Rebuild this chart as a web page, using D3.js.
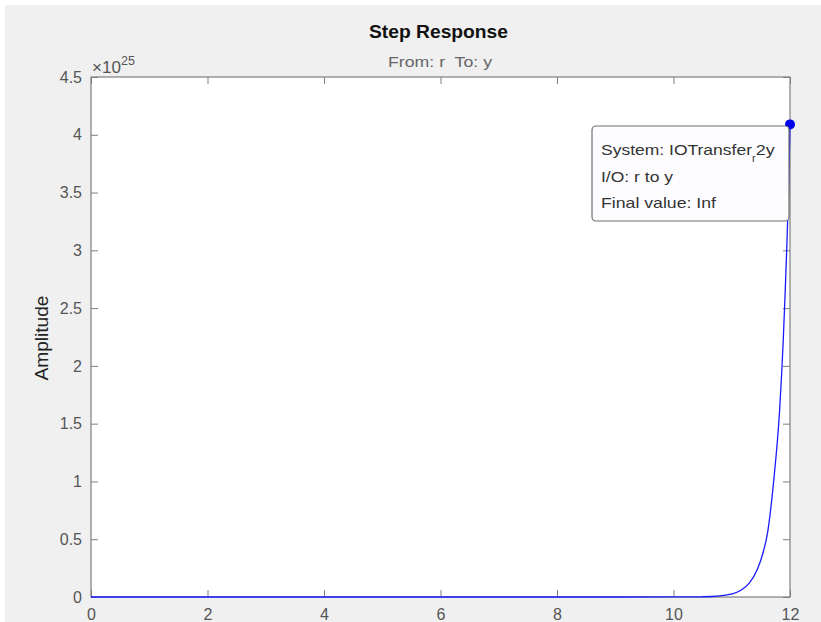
<!DOCTYPE html>
<html><head><meta charset="utf-8">
<script src="https://cdn.jsdelivr.net/npm/d3@7"></script>
<style>
html,body{margin:0;padding:0;background:#fff;}
svg{display:block;}
text{font-family:"Liberation Sans",Arial,sans-serif;}
</style></head>
<body>
<script>
// Data (time in seconds, amplitude in units of 1e25)
const times =      [0, 2, 4, 6, 8, 10, 10.5, 10.8, 10.985, 11.157, 11.30, 11.444, 11.53, 11.616, 11.719, 11.822, 11.884, 11.918, 11.943, 11.977, 12];
const amplitude =  [0, 0, 0, 0, 0, 0.0003, 0.002, 0.01, 0.024, 0.058, 0.12, 0.245, 0.37, 0.56, 1.0, 1.62, 2.22, 2.65, 3.0, 3.55, 4.09];
const xTicks = [0, 2, 4, 6, 8, 10, 12];
const yTicks = [0, 0.5, 1, 1.5, 2, 2.5, 3, 3.5, 4, 4.5];
const finalPoint = {t: 12, v: 4.09};
const tipLines = ["I/O: r to y", "Final value: Inf"];

const W = 821, H = 622;
const svg = d3.select("body").append("svg").attr("width", W).attr("height", H);
svg.append("rect").attr("x", 5).attr("y", 5).attr("width", W - 5).attr("height", H - 5).attr("fill", "#f0f0f0");

const L = 91, R = 790, T = 77, B = 597;
const x = d3.scaleLinear().domain([0, 12]).range([L, R]);
const y = d3.scaleLinear().domain([0, 4.5]).range([B, T]);

svg.append("rect").attr("x", L).attr("y", T).attr("width", R - L).attr("height", B - T).attr("fill", "#fff");

const axisColor = "#7f7f7f", labelColor = "#555";
function styleAxis(g, showLabels) {
  g.select(".domain").remove();
  g.selectAll(".tick line").attr("stroke", axisColor);
  g.selectAll(".tick text").attr("fill", labelColor).attr("font-size", 16).style("display", showLabels ? null : "none");
}
svg.append("g").attr("transform", `translate(0,${B})`)
  .call(d3.axisBottom(x).tickValues(xTicks).tickSize(-7).tickPadding(12).tickFormat(d3.format("d")))
  .call(g => styleAxis(g, true));
svg.append("g").attr("transform", `translate(0,${T})`)
  .call(d3.axisTop(x).tickValues(xTicks).tickSize(-7).tickFormat(""))
  .call(g => styleAxis(g, false));
svg.append("g").attr("transform", `translate(${L},0)`)
  .call(d3.axisLeft(y).tickValues(yTicks).tickSize(-7).tickPadding(9).tickFormat(d => d3.format("")(d)))
  .call(g => styleAxis(g, true));
svg.append("g").attr("transform", `translate(${R},0)`)
  .call(d3.axisRight(y).tickValues(yTicks).tickSize(-7).tickFormat(""))
  .call(g => styleAxis(g, false));

svg.append("rect").attr("x", L).attr("y", T).attr("width", R - L).attr("height", B - T)
  .attr("fill", "none").attr("stroke", axisColor).attr("stroke-width", 1.2);

// curve
const pts = times.map((t, i) => [t, amplitude[i]]);
svg.append("path").datum(pts)
  .attr("fill", "none").attr("stroke", "#1a1aff").attr("stroke-width", 1.3)
  .attr("d", d3.line().x(d => x(d[0])).y(d => y(d[1])).curve(d3.curveMonotoneX));

// marker
svg.append("circle").attr("cx", x(finalPoint.t)).attr("cy", y(finalPoint.v)).attr("r", 5).attr("fill", "#0000ee");

// tooltip
const tipX = 592, tipY = 126, tipW = 197, tipH = 95;
svg.append("rect").attr("x", tipX).attr("y", tipY).attr("width", tipW).attr("height", tipH)
  .attr("rx", 4).attr("fill", "#fdfdff").attr("stroke", "#707070").attr("stroke-width", 1.2);
const t1 = svg.append("text").attr("x", 601).attr("y", 154.5).attr("font-size", 15).attr("fill", "#333");
t1.append("tspan").attr("textLength", 151).attr("lengthAdjust", "spacingAndGlyphs").text("System: IOTransfer");
t1.append("tspan").attr("font-size", 11).attr("dy", 7).text("r");
t1.append("tspan").attr("dy", -7).attr("textLength", 19).attr("lengthAdjust", "spacingAndGlyphs").text("2y");
const tipW2 = [72, 115];
tipLines.forEach((s, i) => svg.append("text").attr("x", 601).attr("y", 181.5 + i * 26)
  .attr("font-size", 15).attr("fill", "#333")
  .attr("textLength", tipW2[i]).attr("lengthAdjust", "spacingAndGlyphs").text(s));

// titles
svg.append("text").attr("x", 369).attr("y", 38)
  .attr("font-size", 17.5).attr("font-weight", "bold").attr("fill", "#111")
  .attr("textLength", 139).attr("lengthAdjust", "spacingAndGlyphs").text("Step Response");
svg.append("text").attr("x", 388).attr("y", 66.5).attr("xml:space", "preserve")
  .attr("font-size", 15).attr("fill", "#666")
  .attr("textLength", 104).attr("lengthAdjust", "spacingAndGlyphs").text("From: r  To: y");
svg.append("text").attr("transform", "translate(48,338) rotate(-90)").attr("text-anchor", "middle")
  .attr("font-size", 17.5).attr("fill", "#222")
  .attr("textLength", 85).attr("lengthAdjust", "spacingAndGlyphs").text("Amplitude");
const ex = svg.append("text").attr("x", 92).attr("y", 72.5).attr("font-size", 16).attr("fill", labelColor);
ex.append("tspan").attr("textLength", 29).attr("lengthAdjust", "spacingAndGlyphs").text("×10");
ex.append("tspan").attr("font-size", 12.5).attr("dy", -8).text("25");
</script>
</body></html>
